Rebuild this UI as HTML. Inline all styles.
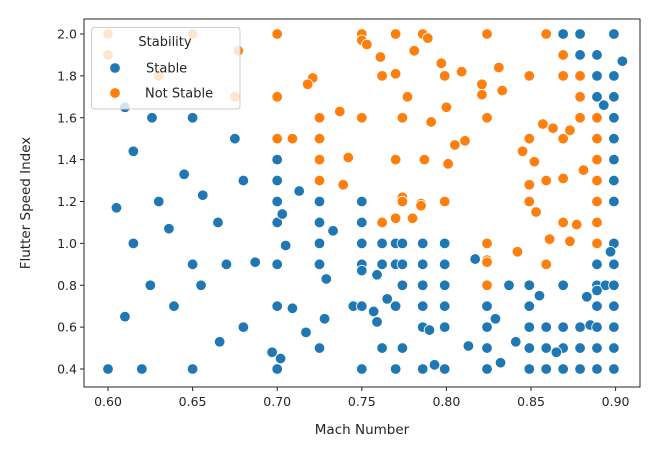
<!DOCTYPE html>
<html><head><meta charset="utf-8"><style>
body{margin:0;background:#fff;}
svg text{font-family:"DejaVu Sans","Liberation Sans",sans-serif;fill:#262626;}
</style></head><body>
<svg id="chart" width="671" height="450" viewBox="0 0 671 450" xmlns="http://www.w3.org/2000/svg">
<rect width="671" height="450" fill="#fff"/>
<g id="pts"></g>
<g id="axes"></g>
</svg>
<script>
const xTicks=[0.60,0.65,0.70,0.75,0.80,0.85,0.90];
const yTicks=[0.4,0.6,0.8,1.0,1.2,1.4,1.6,1.8,2.0];
const xTickLabels=["0.60","0.65","0.70","0.75","0.80","0.85","0.90"];
const yTickLabels=["0.4","0.6","0.8","1.0","1.2","1.4","1.6","1.8","2.0"];
const stableMach=[0.61,0.626,0.65,0.675,0.615,0.645,0.68,0.70,0.70,0.713,0.656,0.63,0.70,0.725,0.75,
0.869,0.879,0.899,0.879,0.889,0.904,0.889,0.899,0.889,0.899,0.893,0.899,0.899,0.899,0.899,0.899,
0.605,0.665,0.70,0.703,0.725,0.75,0.636,0.733,0.615,0.705,0.725,0.75,0.65,0.67,0.687,0.70,0.725,0.75,0.75,0.729,0.625,0.655,0.639,0.70,0.709,0.745,0.75,0.61,0.728,0.68,0.717,0.666,0.725,0.697,0.702,0.60,0.62,0.65,0.70,0.75,
0.762,0.77,0.774,0.786,0.799,0.899,0.897,0.762,0.77,0.774,0.786,0.799,0.817,0.889,0.899,0.759,0.774,0.786,0.799,0.837,0.849,0.869,0.889,0.894,0.899,0.889,0.855,0.883,0.765,0.757,0.77,0.786,0.799,0.824,0.849,0.889,0.899,0.759,0.829,0.786,0.79,0.799,0.824,0.849,0.859,0.869,0.879,0.885,0.889,0.899,0.841,0.762,0.774,0.813,0.824,0.849,0.859,0.869,0.879,0.889,0.899,0.865,0.77,0.786,0.793,0.799,0.824,0.832,0.849,0.859,0.869,0.879,0.889,0.899];
const stableFlutter=[1.65,1.60,1.60,1.50,1.44,1.33,1.30,1.40,1.30,1.25,1.23,1.20,1.20,1.20,1.20,
2.0,2.0,2.0,1.90,1.90,1.87,1.80,1.80,1.70,1.70,1.66,1.60,1.50,1.40,1.30,1.20,
1.17,1.10,1.10,1.14,1.10,1.10,1.07,1.06,1.00,0.99,1.00,1.00,0.90,0.90,0.91,0.90,0.90,0.90,0.87,0.83,0.80,0.80,0.70,0.70,0.69,0.70,0.70,0.65,0.64,0.60,0.575,0.53,0.50,0.48,0.45,0.40,0.40,0.40,0.40,0.40,
1.00,1.00,1.00,1.00,1.00,1.00,0.96,0.90,0.90,0.90,0.90,0.90,0.925,0.90,0.90,0.85,0.80,0.80,0.80,0.80,0.80,0.80,0.80,0.80,0.80,0.775,0.75,0.745,0.735,0.675,0.70,0.70,0.70,0.70,0.70,0.70,0.70,0.625,0.64,0.60,0.586,0.60,0.60,0.60,0.60,0.60,0.60,0.61,0.60,0.60,0.53,0.50,0.50,0.51,0.50,0.50,0.50,0.50,0.50,0.50,0.50,0.48,0.40,0.40,0.42,0.40,0.40,0.43,0.40,0.40,0.40,0.40,0.40,0.40];
const unstableMach=[0.60,0.60,0.65,0.677,0.63,0.675,0.70,0.70,0.721,0.718,0.725,0.737,0.75,0.70,0.709,0.725,0.725,0.742,0.725,0.739,0.75,0.75,
0.753,0.77,0.786,0.789,0.824,0.859,0.761,0.781,0.762,0.77,0.797,0.799,0.809,0.831,0.821,0.821,0.833,0.849,0.869,0.869,0.879,0.777,0.80,0.879,0.75,0.774,0.791,0.824,0.879,0.889,0.857,0.863,0.873,0.849,0.869,0.889,0.805,0.811,0.845,0.852,0.77,0.787,0.801,0.889,0.881,0.859,0.869,0.889,0.849,0.774,0.774,0.785,0.799,0.849,0.889,
0.785,0.853,0.762,0.77,0.78,0.869,0.877,0.889,0.861,0.873,0.889,0.824,0.842,0.824,0.824,0.859,0.824];
const unstableFlutter=[2.0,1.90,2.0,1.92,1.80,1.70,2.0,1.70,1.79,1.76,1.60,1.63,1.60,1.50,1.50,1.50,1.40,1.41,1.30,1.28,2.0,1.97,
1.95,2.0,2.0,1.98,2.0,2.0,1.89,1.92,1.80,1.81,1.86,1.80,1.82,1.84,1.76,1.71,1.73,1.80,1.90,1.80,1.80,1.70,1.65,1.70,1.60,1.60,1.58,1.60,1.60,1.60,1.57,1.55,1.54,1.50,1.50,1.50,1.47,1.49,1.44,1.39,1.40,1.40,1.38,1.40,1.35,1.30,1.31,1.30,1.28,1.22,1.20,1.19,1.20,1.20,1.20,
1.18,1.15,1.10,1.12,1.12,1.10,1.09,1.10,1.02,1.01,1.00,1.00,0.96,0.92,0.91,0.90,0.80];

const NS="http://www.w3.org/2000/svg";
const X0=84,X1=640,Y0=19,Y1=387;
function xs(v){return 108+(v-0.6)/0.05*84.6;}
function ys(v){return 369-(v-0.4)/1.6*335;}
function mk(t,a){const e=document.createElementNS(NS,t);for(const k in a)e.setAttribute(k,a[k]);return e;}
const pts=document.getElementById('pts');
function drawSeries(mx,fy,color,name){
  for(let i=0;i<mx.length;i++){
    const c=mk('circle',{cx:xs(mx[i]),cy:ys(fy[i]),r:5.3,fill:color,stroke:'#fff','stroke-width':0.8});
    
    
    pts.appendChild(c);
  }
}
drawSeries(stableMach,stableFlutter,'#1f77b4','stable-point');
drawSeries(unstableMach,unstableFlutter,'#ff7f0e','not-stable-point');

const ax=document.getElementById('axes');
const frame=mk('rect',{x:X0,y:Y0,width:X1-X0,height:Y1-Y0,fill:'none',stroke:'#262626','stroke-width':1});


ax.appendChild(frame);
xTicks.forEach((v,i)=>{
  const x=xs(v);
  const l=mk('line',{x1:x,x2:x,y1:Y1,y2:Y1+4,stroke:'#262626'});
  
  
  ax.appendChild(l);
  const t=mk('text',{x:x,y:Y1+19,'text-anchor':'middle','font-size':12.5});
  t.textContent=xTickLabels[i];
  
  
  ax.appendChild(t);
});
yTicks.forEach((v,i)=>{
  const y=ys(v);
  const l=mk('line',{x1:X0-4,x2:X0,y1:y,y2:y,stroke:'#262626'});
  
  
  ax.appendChild(l);
  const t=mk('text',{x:X0-7,y:y+4.5,'text-anchor':'end','font-size':12.5});
  t.textContent=yTickLabels[i];
  
  
  ax.appendChild(t);
});
</script>
<svg style="position:absolute;left:0;top:0" width="671" height="450">
<text x="362" y="434" text-anchor="middle" font-size="13.5">Mach Number</text>
<text transform="translate(30,203) rotate(-90)" text-anchor="middle" font-size="13.5">Flutter Speed Index</text>
<g>
<rect x="91.5" y="27.5" width="148.5" height="81.5" rx="3" fill="#fff" fill-opacity="0.8" stroke="#cccccc"/>
<text x="165" y="46" text-anchor="middle" font-size="13">Stability</text>
<circle cx="115" cy="68" r="5.3" fill="#1f77b4" stroke="#fff" stroke-width="0.8"/>
<text x="146" y="72.5" font-size="13">Stable</text>
<circle cx="115" cy="93" r="5.3" fill="#ff7f0e" stroke="#fff" stroke-width="0.8"/>
<text x="145" y="97.5" font-size="13">Not Stable</text>
</g>
</svg>
</body></html>
